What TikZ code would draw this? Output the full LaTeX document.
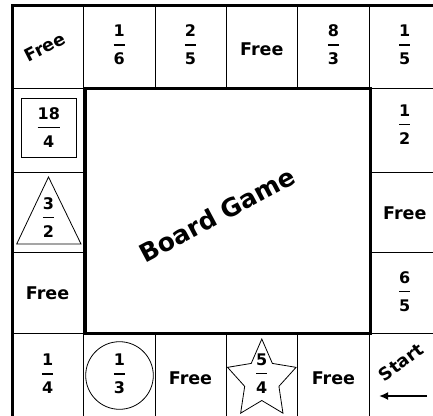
\documentclass[tikz,border=0pt]{standalone}
\usepackage{fontspec}
\setmainfont{DejaVu Sans}
\usetikzlibrary{arrows.meta}

\newlength{\fracwd}
\newcommand{\fracstack}[2]{\settowidth{\fracwd}{#1}\global\fracwd=\fracwd#1\\\rule[5.1pt]{\fracwd}{1.6pt}\\#2}

\begin{document}
\begin{tikzpicture}[x=1pt, y=-1pt,
  cellline/.style={line width=0.8pt},
  rim/.style={line width=3pt},
  lbl/.style={font=\fontsize{17.5}{20}\selectfont\bfseries, inner sep=0pt},
  frac/.style={font=\fontsize{16}{14}\selectfont\bfseries, align=center, inner sep=0pt}]
  \useasboundingbox (0,0) rectangle (433,415);
  \clip (0,0) rectangle (433,415);

  % Track cells, top and bottom rows
  \foreach \xa/\xb in {12/83.3, 83.3/155, 155/226, 226/297.7, 297.7/369, 369/440.5} {
    \draw[cellline] (\xa,5) rectangle (\xb,88.5);
    \draw[cellline] (\xa,333.3) rectangle (\xb,420);
  }
  % Track cells, left and right columns
  \foreach \ya/\yb in {88.5/172.7, 172.7/252.7, 252.7/333.3} {
    \draw[cellline] (12,\ya) rectangle (83.3,\yb);
    \draw[cellline] (369,\ya) rectangle (440.5,\yb);
  }

  % Outer rim and inner field
  \draw[rim] (12,5) rectangle (440.5,420);
  \draw[rim] (85,88.5) rectangle (370.3,333.6);

  % Top row
  \node[lbl, rotate=27] (cornerfree) at (45,47) {Free};
  \node[frac] (t1) at (119.2,45) {\fracstack{1}{6}};
  \node[frac] (t2) at (190.5,45) {\fracstack{2}{5}};
  \node[lbl] (t3) at (261.8,48.8) {Free};
  \node[frac] (t4) at (333.4,45) {\fracstack{8}{3}};
  \node[frac] (t5) at (404.8,45) {\fracstack{1}{5}};

  % Left column (square and triangle marks)
  \draw[cellline] (21.7,98.3) rectangle (76,157.3);
  \node[frac] (l1) at (48.8,127.5) {\fracstack{18}{4}};
  \draw[cellline] (48.5,177) -- (16.7,244) -- (81,244) -- cycle;
  \node[frac] (l2) at (48.5,217.5) {\fracstack{3}{2}};
  \node[lbl] (l3) at (47.6,293.5) {Free};

  % Right column
  \node[frac] (r1) at (404.8,124.5) {\fracstack{1}{2}};
  \node[lbl] (r2) at (404.8,213) {Free};
  \node[frac] (r3) at (404.8,291.5) {\fracstack{6}{5}};

  % Bottom row (circle and star marks)
  \node[frac] (b0) at (47.6,374) {\fracstack{1}{4}};
  \draw[cellline] (119.5,375.5) circle (33.8pt);
  \node[frac] (b1) at (119.5,374) {\fracstack{1}{3}};
  \node[lbl] (b2) at (190.5,378.5) {Free};
  \draw[cellline, line join=miter] (261.8,339)
    \foreach \k in {0,...,4} {
      -- ({261.8+18*cos(126+72*\k)}, {380-20.5*sin(126+72*\k)})
      -- ({261.8+36*cos(162+72*\k)}, {380-41*sin(162+72*\k)})
    } -- cycle;
  \node[frac] (b3) at (261.8,373.5) {\fracstack{5}{4}};
  \node[lbl] (b4) at (333.4,378.5) {Free};

  % Start corner
  \node[lbl, rotate=37] (start) at (401,362) {Start};
  \coordinate (arrtail) at (427,396);
  \coordinate (arrhead) at (379,396);
  \draw[line width=2.5pt, -{Latex[length=9pt,width=8pt]}] (arrtail) -- (arrhead);

  % Title in the field
  \node[font=\fontsize{25}{30}\selectfont\bfseries, rotate=28] (title) at (217,215) {Board Game};
\end{tikzpicture}
\end{document}
